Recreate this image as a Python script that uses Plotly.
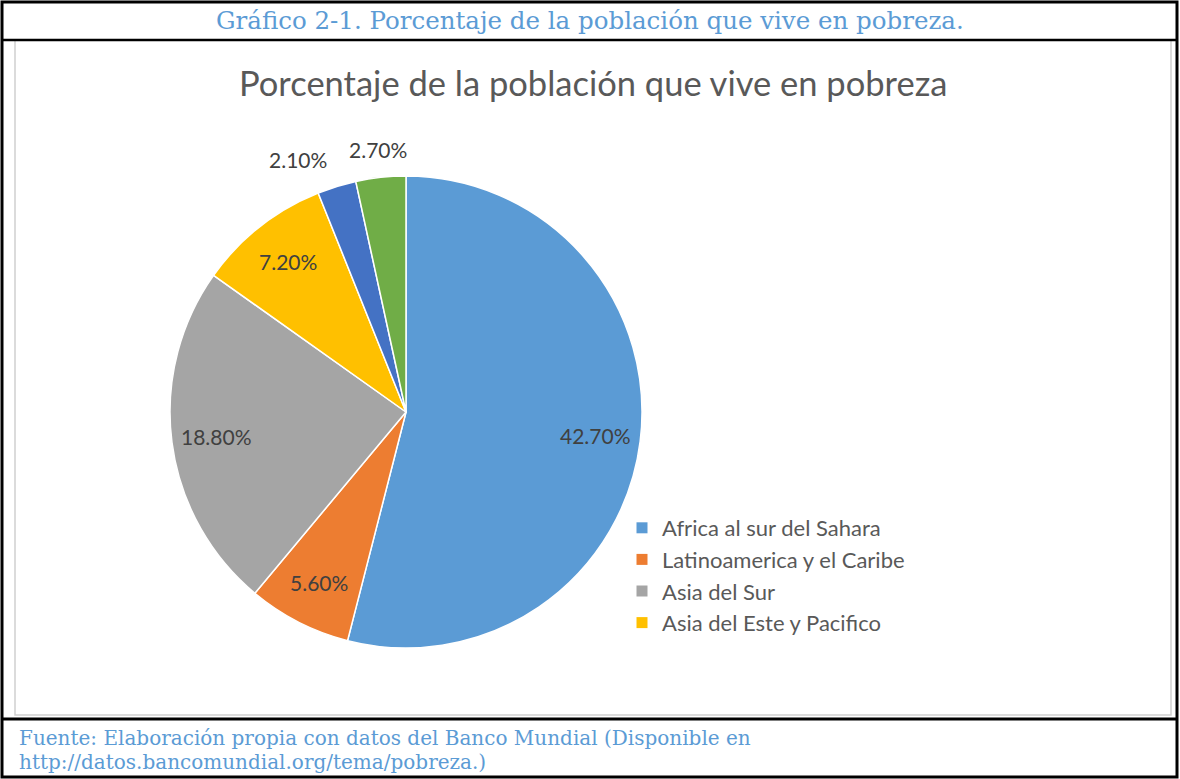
import math
import plotly.graph_objects as go

# ---- data ----
categories = [
    "Africa al sur del Sahara",
    "Latinoamerica y el Caribe",
    "Asia del Sur",
    "Asia del Este y Pacifico",
    "Europa y Asia Central",
    "Oriente Medio y Norte de Africa",
]
values = [42.70, 5.60, 18.80, 7.20, 2.10, 2.70]
value_labels = ["42.70%", "5.60%", "18.80%", "7.20%", "2.10%", "2.70%"]
legend_categories = categories[:4]

colors = ["#5B9BD5", "#ED7D31", "#A5A5A5", "#FFC000", "#4472C4", "#70AD47"]
label_outside = [False, False, False, False, True, True]
label_anchor = ["center", "center", "center", "center", "right", "center"]

W, H = 1180, 779


def px(x):
    return x / W


def py(y):
    return 1 - y / H


fig = go.Figure()

cx, cy, r = 406, 412, 236
fig.add_trace(go.Pie(
    labels=categories,
    values=values,
    text=value_labels,
    textinfo="none",
    sort=False,
    direction="clockwise",
    rotation=0,
    marker=dict(colors=colors, line=dict(color="white", width=1.5)),
    showlegend=False,
    domain=dict(x=[px(cx - r), px(cx + r)], y=[py(cy + r), py(cy - r)]),
    hoverinfo="label+text",
))

# data labels placed along each slice's mid angle (computed from the values)
total = sum(values)
cum = 0.0
annotations = []
for v, lab, out, anc in zip(values, value_labels, label_outside, label_anchor):
    mid = (cum + v / 2) / total * 2 * math.pi
    cum += v
    dist = r + 28 if out else r * 0.81
    lx = cx + dist * math.sin(mid)
    ly = cy - dist * math.cos(mid)
    annotations.append(dict(
        text=lab, xref="paper", yref="paper", x=px(lx), y=py(ly),
        xanchor=anc, yanchor="middle", showarrow=False,
        font=dict(family="Lato", size=21, color="#404040")))

# legend entries (only first four categories appear in the reference legend)
for name, col in zip(legend_categories, colors):
    fig.add_trace(go.Scatter(
        x=[None], y=[None], mode="markers", name=name,
        marker=dict(symbol="square", size=11, color=col),
        showlegend=True,
    ))

shapes = [
    dict(type="rect", xref="paper", yref="paper",
         x0=px(2), x1=px(1177), y0=py(777), y1=py(2),
         line=dict(color="black", width=3)),
    dict(type="rect", xref="paper", yref="paper",
         x0=px(15), x1=px(1171), y0=py(715), y1=py(40),
         line=dict(color="#D0D0D0", width=1.5)),
    dict(type="line", xref="paper", yref="paper",
         x0=px(2), x1=px(1177), y0=py(40), y1=py(40),
         line=dict(color="black", width=2.5)),
    dict(type="line", xref="paper", yref="paper",
         x0=px(2), x1=px(1177), y0=py(719), y1=py(719),
         line=dict(color="black", width=3)),
]

annotations += [
    dict(text="Gráfico 2-1. Porcentaje de la población que vive en pobreza.",
         xref="paper", yref="paper", x=px(590), y=py(21),
         xanchor="center", yanchor="middle", showarrow=False,
         font=dict(family="DejaVu Serif", size=24.5, color="#5B9BD5")),
    dict(text="Porcentaje de la población que vive en pobreza",
         xref="paper", yref="paper", x=px(593), y=py(82),
         xanchor="center", yanchor="middle", showarrow=False,
         font=dict(family="Lato", size=34.5, color="#595959")),
    dict(text="Fuente: Elaboración propia con datos del Banco Mundial (Disponible en",
         xref="paper", yref="paper", x=px(17), y=py(738),
         xanchor="left", yanchor="middle", showarrow=False,
         font=dict(family="DejaVu Serif", size=20, color="#5B9BD5")),
    dict(text="http://datos.bancomundial.org/tema/pobreza.)",
         xref="paper", yref="paper", x=px(17), y=py(762),
         xanchor="left", yanchor="middle", showarrow=False,
         font=dict(family="DejaVu Serif", size=20, color="#5B9BD5")),
]

fig.update_layout(
    width=W, height=H,
    margin=dict(l=0, r=0, t=0, b=0),
    paper_bgcolor="white",
    plot_bgcolor="white",
    xaxis=dict(visible=False, domain=[0.9, 0.95]),
    yaxis=dict(visible=False, domain=[0.9, 0.95]),
    shapes=shapes,
    annotations=annotations,
    legend=dict(
        x=px(622), y=py(507), xanchor="left", yanchor="top",
        font=dict(family="Lato", size=22, color="#595959"),
        itemwidth=30, tracegroupgap=0,
        bgcolor="rgba(0,0,0,0)",
    ),
)

fig.write_html("out.html",
               config={"displayModeBar": False},
               post_script="document.body.style.margin='0';document.body.style.overflow='hidden';")
